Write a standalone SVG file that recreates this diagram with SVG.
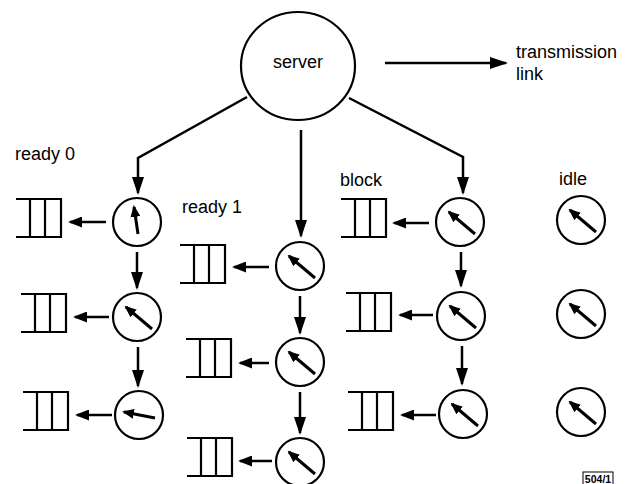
<svg xmlns="http://www.w3.org/2000/svg" width="637" height="484" viewBox="0 0 637 484">
<style>
  .bg { fill: #ffffff; }
  .node { fill: #ffffff; stroke: #000; stroke-width: 2.2; }
  .hand { stroke: #000; stroke-width: 3; fill: none; marker-end: url(#handHead); }
  .conn { stroke: #000; stroke-width: 2.5; fill: none; marker-end: url(#bigHead); }
  .qarr { stroke: #000; stroke-width: 2.5; fill: none; marker-end: url(#smallHead); }
  .queue { fill: none; stroke: #000; stroke-width: 2.2; }
  .lbl { font-family: "Liberation Sans", Arial, Helvetica, sans-serif; font-size: 18px; fill: #000; }
  .tag { font-family: "Liberation Sans", Arial, Helvetica, sans-serif; font-size: 10.5px; font-weight: bold; fill: #000; }
</style>
<defs>
  <marker id="bigHead" markerUnits="userSpaceOnUse" viewBox="0 0 18 12" markerWidth="18" markerHeight="12" refX="16" refY="6" orient="auto">
    <path d="M0,0 L18,6 L0,12 z" fill="#000"/>
  </marker>
  <marker id="smallHead" markerUnits="userSpaceOnUse" viewBox="0 0 14 11" markerWidth="14" markerHeight="11" refX="12" refY="5.5" orient="auto">
    <path d="M0,0 L14,5.5 L0,11 z" fill="#000"/>
  </marker>
  <marker id="handHead" markerUnits="userSpaceOnUse" viewBox="0 0 12 10" markerWidth="12" markerHeight="10" refX="10" refY="5" orient="auto">
    <path d="M0,0 L12,5 L0,10 z" fill="#000"/>
  </marker>
  <path id="q" class="queue" d="M0,0 H45 V38 H0 M14,0 V38 M29,0 V38"/>
</defs>
<rect class="bg" x="0" y="0" width="637" height="484"/>

<g id="connectors">
  <!-- server to columns -->
  <path class="conn" d="M247,97 L138,158 L138,193"/>
  <path class="conn" d="M301,130 L301,236"/>
  <path class="conn" d="M349,98 L463,157 L463,193"/>
  <!-- transmission link -->
  <path class="conn" d="M385,63 L506,63"/>
  <!-- column 1 -->
  <path class="conn" d="M137,252 L137,288"/>
  <path class="conn" d="M138,347 L138,386"/>
  <path class="qarr" d="M106,222 L70,222"/>
  <path class="qarr" d="M109,317 L75,317"/>
  <path class="qarr" d="M112,415 L77,415"/>
  <!-- column 2 -->
  <path class="conn" d="M300,296 L300,333"/>
  <path class="conn" d="M300,392 L300,433"/>
  <path class="qarr" d="M269,267 L234,267"/>
  <path class="qarr" d="M269,363 L240,363"/>
  <path class="qarr" d="M272,461 L240,461"/>
  <!-- column 3 -->
  <path class="conn" d="M461,252 L461,286"/>
  <path class="conn" d="M462,346 L462,384"/>
  <path class="qarr" d="M429,223 L394,223"/>
  <path class="qarr" d="M433,315 L400,315"/>
  <path class="qarr" d="M436,415 L402,415"/>
</g>

<g id="server">
  <ellipse class="node" cx="298" cy="66" rx="57" ry="54"/>
  <text class="lbl" x="298" y="68" text-anchor="middle">server</text>
</g>

<g id="transmission-label">
  <text class="lbl" x="516" y="58">transmission</text>
  <text class="lbl" x="516" y="80">link</text>
</g>

<g id="labels">
  <text class="lbl" x="15" y="160">ready 0</text>
  <text class="lbl" x="182" y="213">ready 1</text>
  <text class="lbl" x="340" y="186">block</text>
  <text class="lbl" x="559" y="185">idle</text>
</g>

<!-- column 1 (ready 0) -->
<g id="r0-1">
  <use href="#q" x="16" y="199"/>
  <circle class="node" cx="137" cy="222" r="24"/>
  <line class="hand" x1="138" y1="234" x2="134" y2="207"/>
</g>
<g id="r0-2">
  <use href="#q" x="21" y="294"/>
  <circle class="node" cx="137" cy="317" r="24"/>
  <line class="hand" x1="152" y1="329" x2="126" y2="307"/>
</g>
<g id="r0-3">
  <use href="#q" x="23" y="392"/>
  <circle class="node" cx="139" cy="415" r="24"/>
  <line class="hand" x1="155" y1="418" x2="124" y2="412"/>
</g>

<!-- column 2 (ready 1) -->
<g id="r1-1">
  <use href="#q" x="180" y="245"/>
  <circle class="node" cx="300" cy="266" r="24"/>
  <line class="hand" x1="315" y1="278" x2="289" y2="256"/>
</g>
<g id="r1-2">
  <use href="#q" x="186" y="339"/>
  <circle class="node" cx="300" cy="362" r="24"/>
  <line class="hand" x1="315" y1="374" x2="289" y2="352"/>
</g>
<g id="r1-3">
  <use href="#q" x="187" y="438"/>
  <circle class="node" cx="300" cy="462" r="24"/>
  <line class="hand" x1="315" y1="474" x2="289" y2="452"/>
</g>

<!-- column 3 (block) -->
<g id="b-1">
  <use href="#q" x="341" y="199"/>
  <circle class="node" cx="460" cy="222" r="24"/>
  <line class="hand" x1="475" y1="234" x2="449" y2="212"/>
</g>
<g id="b-2">
  <use href="#q" x="346" y="293"/>
  <circle class="node" cx="461" cy="316" r="24"/>
  <line class="hand" x1="476" y1="328" x2="450" y2="306"/>
</g>
<g id="b-3">
  <use href="#q" x="348" y="392"/>
  <circle class="node" cx="463" cy="414" r="24"/>
  <line class="hand" x1="478" y1="426" x2="452" y2="404"/>
</g>

<!-- idle -->
<g id="i-1">
  <circle class="node" cx="581" cy="220" r="24"/>
  <line class="hand" x1="596" y1="232" x2="570" y2="210"/>
</g>
<g id="i-2">
  <circle class="node" cx="581" cy="314" r="24"/>
  <line class="hand" x1="596" y1="326" x2="570" y2="304"/>
</g>
<g id="i-3">
  <circle class="node" cx="581" cy="412" r="24"/>
  <line class="hand" x1="596" y1="424" x2="570" y2="402"/>
</g>

<g id="figure-tag">
  <rect x="583" y="472" width="30" height="14" fill="none" stroke="#000" stroke-width="1"/>
  <text class="tag" x="598" y="482.5" text-anchor="middle">504/1</text>
</g>
</svg>
